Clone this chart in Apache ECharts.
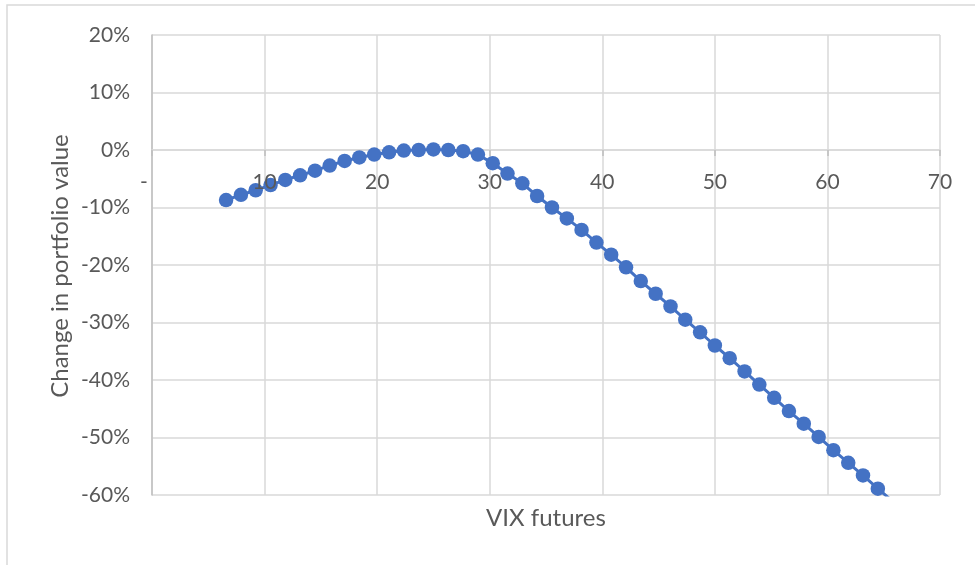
<!DOCTYPE html>
<html>
<head>
<meta charset="utf-8">
<script src="https://cdn.jsdelivr.net/npm/echarts@6/dist/echarts.min.js"></script>
<style>
html,body{margin:0;padding:0;background:#fff;}
#chart{width:975px;height:565px;}
</style>
</head>
<body>
<div id="chart"></div>
<script>
// VIX futures level (x) and change in portfolio value in percent (y)
var vixFutures = [6.58, 7.90, 9.21, 10.53, 11.84, 13.16, 14.48, 15.79, 17.11, 18.42,
  19.74, 21.06, 22.37, 23.69, 25.00, 26.32, 27.64, 28.95, 30.27, 31.58,
  32.90, 34.21, 35.53, 36.85, 38.16, 39.48, 40.79, 42.11, 43.42, 44.74,
  46.06, 47.37, 48.69, 50.00, 51.32, 52.64, 53.95, 55.27, 56.58, 57.90,
  59.22, 60.53, 61.85, 63.16, 64.48, 65.80];
var portfolioChange = [-8.7, -7.8, -7.0, -6.1, -5.2, -4.4, -3.6, -2.7, -1.9, -1.3,
  -0.8, -0.4, -0.1, 0.0, 0.1, 0.0, -0.2, -0.8, -2.3, -4.1,
  -5.8, -8.0, -10.0, -11.9, -13.9, -16.1, -18.2, -20.4, -22.8, -25.0,
  -27.2, -29.5, -31.7, -34.0, -36.2, -38.5, -40.8, -43.1, -45.4, -47.6,
  -49.9, -52.2, -54.4, -56.6, -58.9, -61.1];
var xTicks = [0, 10, 20, 30, 40, 50, 60, 70];
var yTicks = [-60, -50, -40, -30, -20, -10, 0, 10, 20];
var xTitle = 'VIX futures';
var yTitle = 'Change in portfolio value';

var seriesData = vixFutures.map(function (v, i) { return [v, portfolioChange[i]]; });

var FONT = 'Lato';
var TEXT = '#595959';
var GRID = '#d9d9d9';

var GRID_TOP = 35, GRID_BOTTOM = 70, CH = 565;
var yMin = yTicks[0], yMax = yTicks[yTicks.length - 1];
// place the horizontal axis where it crosses y = 0 (as in the original)
var zeroOffset = -(CH - GRID_TOP - GRID_BOTTOM) * (0 - yMin) / (yMax - yMin);

var xBase = {
  type: 'value',
  position: 'bottom',
  offset: zeroOffset,
  min: xTicks[0],
  max: xTicks[xTicks.length - 1],
  interval: xTicks[1] - xTicks[0]
};

var chart = echarts.init(document.getElementById('chart'), null, {renderer: 'canvas'});
chart.setOption({
  animation: false,
  backgroundColor: '#ffffff',
  grid: {left: 152, right: 35, top: GRID_TOP, bottom: GRID_BOTTOM, containLabel: false},
  xAxis: [
    Object.assign({}, xBase, {
      z: 0,
      axisLine: {show: true, onZero: false, lineStyle: {color: GRID, width: 1.5}},
      axisTick: {show: true, length: 6, lineStyle: {color: '#bfbfbf', width: 1.5}},
      axisLabel: {show: false},
      splitLine: {show: true, lineStyle: {color: GRID, width: 1.5}}
    }),
    Object.assign({}, xBase, {
      z: 5,
      axisLine: {show: false, onZero: false},
      axisTick: {show: false},
      splitLine: {show: false},
      axisLabel: {
        color: TEXT, fontFamily: FONT, fontSize: 21, margin: 22,
        formatter: function (v) { return v === 0 ? '-\u00a0\u00a0\u00a0' : String(v); }
      }
    })
  ],
  yAxis: {
    type: 'value',
    min: yMin,
    max: yMax,
    interval: yTicks[1] - yTicks[0],
    axisLine: {show: true, onZero: false, lineStyle: {color: '#bfbfbf', width: 1.5}},
    axisTick: {show: false},
    axisLabel: {
      color: TEXT, fontFamily: FONT, fontSize: 21, margin: 22,
      formatter: function (v) { return v + '%'; }
    },
    splitLine: {show: true, lineStyle: {color: GRID, width: 1.5}}
  },
  graphic: [
    {type: 'rect', silent: true, z: -10,
      shape: {x: 7, y: 5, width: 1200, height: 800},
      style: {fill: 'none', stroke: GRID, lineWidth: 1.5}},
    {type: 'text', silent: true, x: 546, y: 518,
      style: {text: xTitle, fill: TEXT, font: '24px ' + FONT, textAlign: 'center', textVerticalAlign: 'middle'}},
    {type: 'text', silent: true, x: 60, y: 266, rotation: Math.PI / 2,
      style: {text: yTitle, fill: TEXT, font: '24px ' + FONT, textAlign: 'center', textVerticalAlign: 'middle'}}
  ],
  series: [{
    type: 'line',
    xAxisIndex: 0,
    z: 2,
    data: seriesData,
    clip: true,
    symbol: 'circle',
    symbolSize: 14.5,
    itemStyle: {color: '#4472C4'},
    lineStyle: {color: '#4472C4', width: 3}
  }]
});
</script>
</body>
</html>
